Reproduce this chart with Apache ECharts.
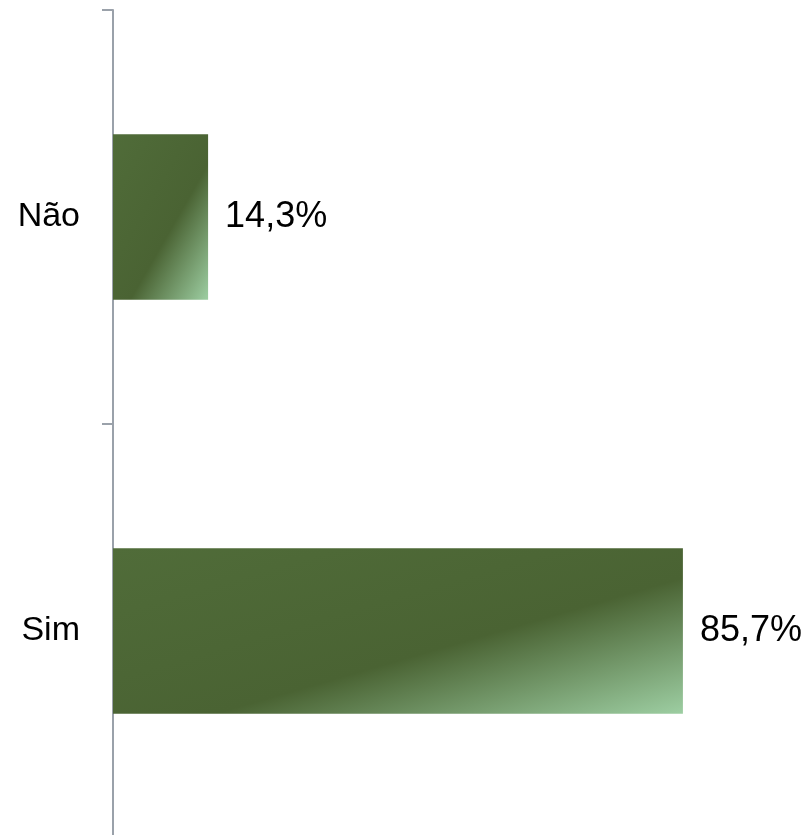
<!DOCTYPE html>
<html>
<head>
<meta charset="utf-8">
<script src="https://cdn.jsdelivr.net/npm/echarts@6/dist/echarts.min.js"></script>
<style>
html,body{margin:0;padding:0;background:#fff;overflow:hidden;}
#chart{width:807px;height:838px;}
</style>
</head>
<body>
<div id="chart"></div>
<script>
var categories = ['Sim', 'Não'];
var values = [85.7, 14.3];

var chart = echarts.init(document.getElementById('chart'), null, {renderer: 'canvas'});
var BAR_RATIO = 0.4;
function makeGrad(w, h) {
  var d = h * h + w * w;
  var x2 = 2 * h * h / d, y2 = 2 * w * w / d;
  return new echarts.graphic.LinearGradient(0, 0, x2, y2, [
    {offset: 0, color: '#506c39'},
    {offset: 0.59, color: '#4a6333'},
    {offset: 1, color: '#9dcea2'}
  ]);
}
var option = {
  animation: false,
  backgroundColor: '#ffffff',
  grid: {left: 113, right: 29, top: 10, bottom: 0, containLabel: false},
  xAxis: {type: 'value', min: 0, max: 100, show: false},
  yAxis: {
    type: 'category',
    data: categories,
    axisLine: {show: true, lineStyle: {color: '#9aa1aa', width: 2}},
    axisTick: {show: true, length: 11, lineStyle: {color: '#9aa1aa', width: 2}},
    axisLabel: {
      margin: 33, color: '#000', fontSize: 34,
      fontFamily: 'Liberation Sans, Arial, sans-serif'
    },
    splitLine: {show: false}
  },
  series: [{
    type: 'bar',
    data: values,
    barWidth: (BAR_RATIO * 100) + '%',
    itemStyle: {color: '#4a6333'},
    label: {
      show: true, position: 'right', distance: 17,
      color: '#000', fontSize: 36,
      fontFamily: 'Liberation Sans, Arial, sans-serif',
      formatter: function (p) { return p.value.toFixed(1).replace('.', ',') + '%'; }
    }
  }]
};
chart.setOption(option);
var x0 = chart.convertToPixel({xAxisIndex: 0}, 0);
var band = Math.abs(chart.convertToPixel({yAxisIndex: 0}, 0) - chart.convertToPixel({yAxisIndex: 0}, 1));
var h = band * BAR_RATIO;
var items = values.map(function (v) {
  var w = chart.convertToPixel({xAxisIndex: 0}, v) - x0;
  return {value: v, itemStyle: {color: makeGrad(w, h)}};
});
chart.setOption({series: [{data: items}]});
</script>
</body>
</html>
